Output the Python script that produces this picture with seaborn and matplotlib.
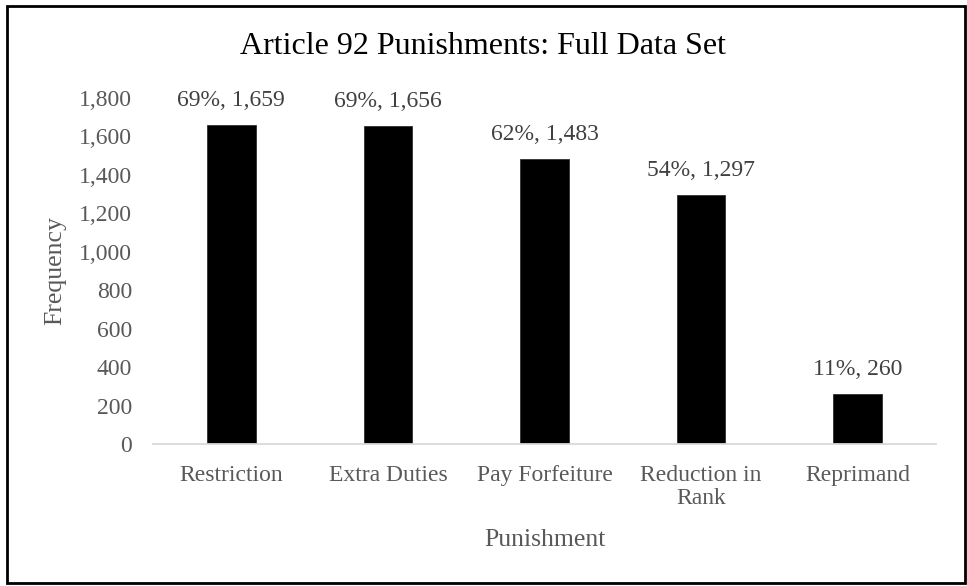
import matplotlib
matplotlib.use("Agg")
import matplotlib.pyplot as plt
import seaborn as sns
import pandas as pd
from matplotlib.patches import Rectangle

# Article 92 punishment counts and share of cases
punishments = ["Restriction", "Extra Duties", "Pay Forfeiture", "Reduction in\nRank", "Reprimand"]
frequency = [1659, 1656, 1483, 1297, 260]
percent = [69, 69, 62, 54, 11]
y_ticks = [0, 200, 400, 600, 800, 1000, 1200, 1400, 1600, 1800]

sns.set_theme(style="white")
plt.rcParams["font.family"] = ["Liberation Serif", "DejaVu Serif"]

df = pd.DataFrame({"Punishment": punishments, "Frequency": frequency})

fig = plt.figure(figsize=(9.67, 5.86), dpi=100)
ax = fig.add_axes([153 / 967, 1 - 444 / 586, (936 - 153) / 967, (444 - 98) / 586])

sns.barplot(data=df, x="Punishment", y="Frequency", order=punishments,
            color="black", width=0.31, saturation=1, edgecolor="#303030",
            linewidth=0.6, ax=ax)

ax.set_ylim(0, 1800)
ax.set_xlim(-0.5, len(punishments) - 0.5)
ax.set_yticks(y_ticks)
ax.set_yticklabels([f"{v:,}" for v in y_ticks])

for side in ["top", "right", "left"]:
    ax.spines[side].set_visible(False)
ax.spines["bottom"].set_color("#D9D9D9")
ax.spines["bottom"].set_linewidth(1.3)

grey = "#595959"
ax.tick_params(axis="y", length=0, pad=15, labelsize=17, labelcolor=grey)
ax.tick_params(axis="x", length=0, pad=15, labelsize=17, labelcolor=grey)
for lbl in ax.get_xticklabels():
    lbl.set_linespacing(1.15)

ax.set_xlabel("Punishment", fontsize=18.5, color=grey, labelpad=14)
ax.set_ylabel("Frequency", fontsize=18.5, color=grey)
ax.yaxis.set_label_coords((66 - 153) / (936 - 153), 0.5)

labels = [f"{p}%, {f:,}" for p, f in zip(percent, frequency)]
ax.bar_label(ax.containers[0], labels=labels, padding=10, fontsize=17, color="#404040")

fig.text(0.5, 1 - 47 / 586, "Article 92 Punishments: Full Data Set",
         ha="center", va="center", fontsize=23, color="black")

# chart frame
fig.patches.append(Rectangle((7 / 967, 3 / 586), 958 / 967, 577 / 586,
                             transform=fig.transFigure, fill=False,
                             edgecolor="black", linewidth=2))

fig.savefig("out.png", dpi=100)
